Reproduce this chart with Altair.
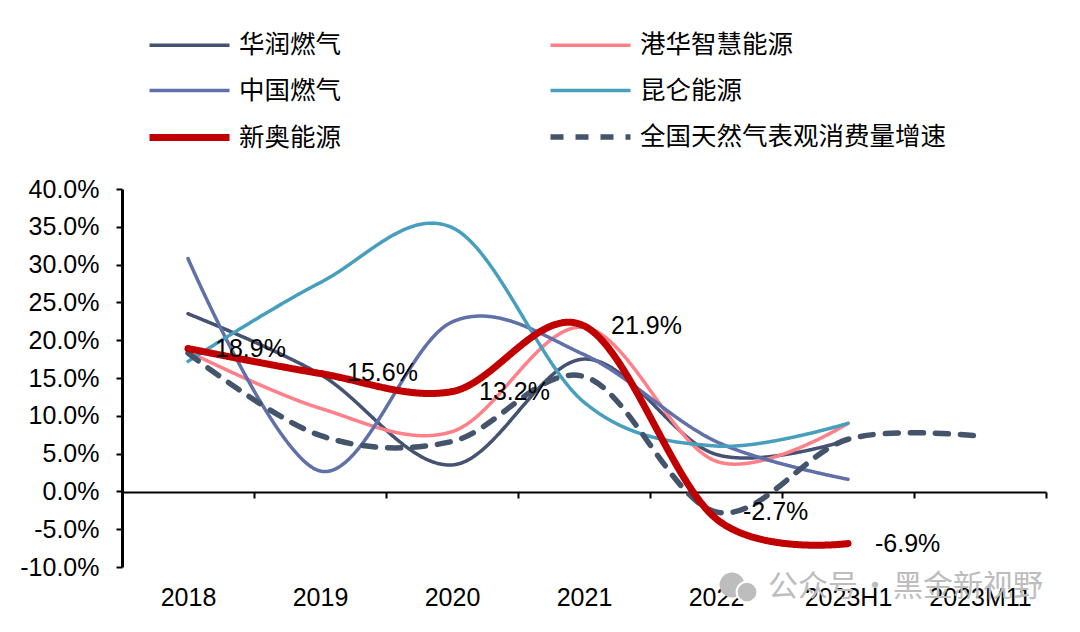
import altair as alt
import pandas as pd

categories = ["2018", "2019", "2020", "2021", "2022", "2023H1", "2023M11"]
huarun = [23.5, 15.5, 3.5, 17.5, 4.9, 6.8, None]
ganghua = [18.5, 11.0, 7.9, 21.7, 4.0, 9.0, None]
zhongguo = [30.8, 2.7, 22.4, 18.1, 6.6, 1.6, None]
kunlun = [17.2, 27.6, 34.9, 11.8, 6.0, 9.0, None]
xinao = [18.9, 15.6, 13.2, 21.9, -3.6, -6.9, None]
national = [18.3, 7.4, 6.6, 15.2, -2.7, 6.9, 7.3]

legend_order = ["华润燃气", "中国燃气", "新奥能源", "港华智慧能源", "昆仑能源", "全国天然气表观消费量增速"]
colors = ["#465272", "#6070A8", "#C00000", "#FF8088", "#479FBD", "#44546A"]
widths = [3.5, 3.5, 7, 3.5, 3.5, 5.5]
dashes = [[1, 0], [1, 0], [1, 0], [1, 0], [1, 0], [13, 12]]

draw_order = [("华润燃气", huarun), ("港华智慧能源", ganghua), ("中国燃气", zhongguo),
              ("昆仑能源", kunlun), ("全国天然气表观消费量增速", national), ("新奥能源", xinao)]
rows = []
for name, series in draw_order:
    for c, v in zip(categories, series):
        if v is not None:
            rows.append({"cat": c, "name": name, "v": v / 100})
df = pd.DataFrame(rows)

label_cats = ["2018", "2019", "2020", "2021", "2022", "2023H1"]
label_vals = [18.9, 15.6, 13.2, 21.9, -2.7, -6.9]
labels = pd.DataFrame({
    "cat": label_cats,
    "v": [v / 100 for v in label_vals],
    "t": [f"{v:.1f}%" for v in label_vals],
})

W, H = 924, 378
FONT = "Liberation Sans"
CJK = "Noto Sans CJK SC"
FS = 25

xscale = alt.Scale(domain=categories, paddingInner=0, paddingOuter=0)
yscale = alt.Scale(domain=[-0.10, 0.40], nice=False, zero=False)
yaxis = alt.Axis(values=[i / 100 for i in range(-10, 45, 5)],
                 labelExpr="replace(format(datum.value*100,'.1f'),'−','-')+'%'",
                 labelFont=FONT, labelFontSize=FS, labelColor="black", labelPadding=17,
                 tickSize=6, tickWidth=2, tickColor="black", domainColor="black", domainWidth=3,
                 grid=False, labelOverlap=False)

lines = alt.Chart(df).mark_line(interpolate="cardinal", tension=0, strokeCap="round", strokeJoin="round").encode(
    x=alt.X("cat:N", scale=xscale, sort=categories, title=None,
            axis=alt.Axis(orient="bottom", offset=-75, labels=False, tickBand="extent", tickSize=6,
                          tickWidth=2, tickColor="black", domainColor="black", domainWidth=2, grid=False)),
    y=alt.Y("v:Q", scale=yscale, title=None, axis=yaxis),
    color=alt.Color("name:N", scale=alt.Scale(domain=legend_order, range=colors),
                    legend=alt.Legend(title=None, orient="none", legendX=44, legendY=-166, columns=2,
                                      symbolType="M-2,0H2", symbolSize=1600, labelFont=CJK, labelFontSize=25.5,
                                      labelColor="black", labelOffset=26, labelLimit=500, columnPadding=197,
                                      rowPadding=9.5, padding=0, gridAlign="each")
                    ),
    strokeWidth=alt.StrokeWidth("name:N", scale=alt.Scale(type="ordinal", domain=legend_order, range=widths), legend=None),
    strokeDash=alt.StrokeDash("name:N", scale=alt.Scale(domain=legend_order, range=dashes), legend=None),
    detail="name:N",
)

texts = alt.Chart(labels).mark_text(align="left", baseline="middle", dx=27, font=FONT, fontSize=FS, color="black").encode(
    x=alt.X("cat:N", scale=xscale, sort=categories, title=None,
            axis=alt.Axis(orient="bottom", domain=False, ticks=False, labelFont=FONT, labelFontSize=FS,
                          labelColor="black", labelAngle=0, labelPadding=18, grid=False)),
    y=alt.Y("v:Q", scale=yscale, title=None, axis=yaxis),
    text="t:N",
)

wm1 = alt.Chart(pd.DataFrame({"t": ["公众号"]})).mark_text(align="left", baseline="middle", font=CJK, fontSize=30, color="#BDBDBD").encode(
    x=alt.value(646), y=alt.value(398), text="t:N")
wm2 = alt.Chart(pd.DataFrame({"t": ["黑金新视野"]})).mark_text(align="left", baseline="middle", font=CJK, fontSize=30, color="#BDBDBD").encode(
    x=alt.value(771), y=alt.value(398), text="t:N")
wm3 = alt.Chart(pd.DataFrame({"t": ["·"]})).mark_text(align="center", baseline="middle", font=CJK, fontSize=30, color="#BDBDBD").encode(
    x=alt.value(753), y=alt.value(398), text="t:N")
ic1 = alt.Chart(pd.DataFrame({"a": [1]})).mark_point(shape="circle", filled=True, opacity=1, color="#BDBDBD", size=620).encode(
    x=alt.value(610), y=alt.value(396))
ic2 = alt.Chart(pd.DataFrame({"a": [1]})).mark_point(shape="circle", filled=True, opacity=1, color="#BDBDBD", stroke="white", strokeWidth=2, size=430).encode(
    x=alt.value(625), y=alt.value(403))

chart = alt.layer(ic1, ic2, wm1, wm2, wm3, lines, texts).resolve_scale(x="independent").properties(
    width=W, height=H,
    padding={"left": 114, "top": 181, "right": 20, "bottom": 50},
    autosize=alt.AutoSizeParams(type="none"),
    background="white",
).configure_view(stroke=None)

chart.save("out.html", embed_options={"renderer": "svg", "actions": False})
